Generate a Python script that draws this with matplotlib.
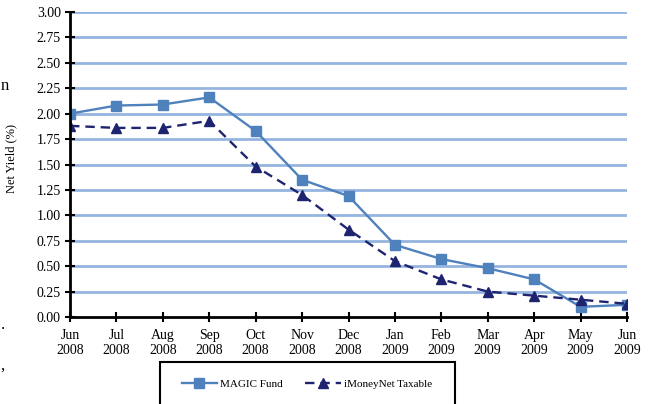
import numpy as np
import matplotlib
matplotlib.use("Agg")
import matplotlib.pyplot as plt
from matplotlib.patches import Rectangle

plt.rcParams['font.family'] = ['Liberation Serif', 'DejaVu Serif']

months = ['Jun\n2008', 'Jul\n2008', 'Aug\n2008', 'Sep\n2008', 'Oct\n2008', 'Nov\n2008',
          'Dec\n2008', 'Jan\n2009', 'Feb\n2009', 'Mar\n2009', 'Apr\n2009', 'May\n2009', 'Jun\n2009']
magic = [2.00, 2.08, 2.09, 2.16, 1.83, 1.35, 1.19, 0.71, 0.57, 0.48, 0.37, 0.10, 0.12]
imoney = [1.88, 1.86, 1.86, 1.93, 1.48, 1.20, 0.86, 0.55, 0.37, 0.25, 0.21, 0.17, 0.13]
yticks = np.arange(0, 3.01, 0.25)

fig = plt.figure(figsize=(6.49, 4.04), dpi=100)
ax = fig.add_axes([70/649, 1-317/404, (627-70)/649, (317-12)/404])

x = np.arange(len(months))
for t in yticks[1:]:
    ax.axhline(t, color='#95B4DF', lw=2, zorder=1)

ax.plot(x, magic, color='#4F81BD', lw=1.7, marker='s', ms=6.5, label='MAGIC Fund', zorder=3)
ax.plot(x, imoney, color='#1F2470', lw=1.7, ls=(0, (4, 2.5)), marker='^', ms=6.5,
        label='iMoneyNet Taxable', zorder=3)

ax.set_xlim(0, len(months)-1)
ax.set_ylim(0, 3.0)
ax.set_yticks(yticks)
ax.set_yticklabels(['%.2f' % v for v in yticks], fontsize=10)
ax.set_xticks(x)
ax.set_xticklabels(months, fontsize=10, linespacing=1.2)
ax.set_ylabel('Net Yield (%)', fontsize=9)
ax.yaxis.set_label_coords(-0.095, 0.52)

for s in ['top', 'right']:
    ax.spines[s].set_visible(False)
for s in ['left', 'bottom']:
    ax.spines[s].set_linewidth(2)
ax.spines['left'].set_zorder(4)
ax.tick_params(axis='both', direction='inout', length=7, width=1.5)
ax.tick_params(axis='y', pad=3)
ax.tick_params(axis='x', pad=5)

# legend box, cut off at bottom of the figure
fig.patches.append(Rectangle((160/649, -0.05), (455-160)/649, 0.05 + (404-362)/404,
                             transform=fig.transFigure, fill=False, ec='black', lw=1.5))
fig.legend(loc='center', bbox_to_anchor=(307/649, 1-384/404), ncol=2, frameon=False,
           fontsize=8, handlelength=3.2, columnspacing=2.0, handletextpad=0.3)

# fragments of surrounding page text at the left edge
fig.text(0.001, 1-86/404, 'n', fontsize=12, va='center', ha='left')
fig.text(0.001, 1-325/404, '.', fontsize=12, va='center', ha='left')
fig.text(0.001, 1-366/404, ',', fontsize=12, va='center', ha='left')

fig.savefig('out.png', dpi=100)
